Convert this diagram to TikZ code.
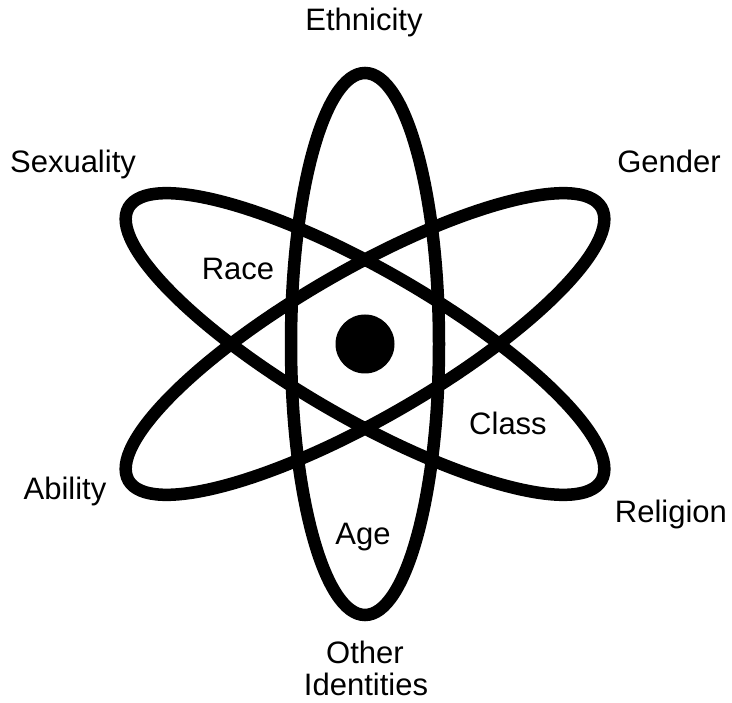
\documentclass[tikz,border=0pt]{standalone}
\usepackage{fontspec}
\setmainfont{Liberation Sans}
\begin{document}
\begin{tikzpicture}[x=1pt,y=-1pt,
  orbit/.style={draw=black,line width=12.5pt},
  lbl/.style={anchor=base,font=\fontsize{31}{34}\selectfont,inner sep=0pt}]
\useasboundingbox[fill=white] (0,0) rectangle (732,703);
\coordinate (c) at (365,344);
\draw[orbit] (c) ellipse [x radius=74, y radius=271];
\draw[orbit,rotate around={60:(c)}] (c) ellipse [x radius=74, y radius=273];
\draw[orbit,rotate around={-60:(c)}] (c) ellipse [x radius=74, y radius=273];
\node[circle,fill=black,minimum size=59pt,inner sep=0pt] (nucleus) at (c) {};
\node[lbl] (eth) at (364,31) {Ethnicity};
\node[lbl] (sex) at (73,173) {Sexuality};
\node[lbl] (gen) at (669,173) {Gender};
\node[lbl] (race) at (238,280) {Race};
\node[lbl] (class) at (508,435) {Class};
\node[lbl] (abil) at (65,500) {Ability};
\node[lbl] (rel) at (671,523) {Religion};
\node[lbl] (age) at (363,545) {Age};
\node[lbl] (oth) at (365,663) {Other};
\node[lbl] (ident) at (366,695) {Identities};
\end{tikzpicture}
\end{document}
